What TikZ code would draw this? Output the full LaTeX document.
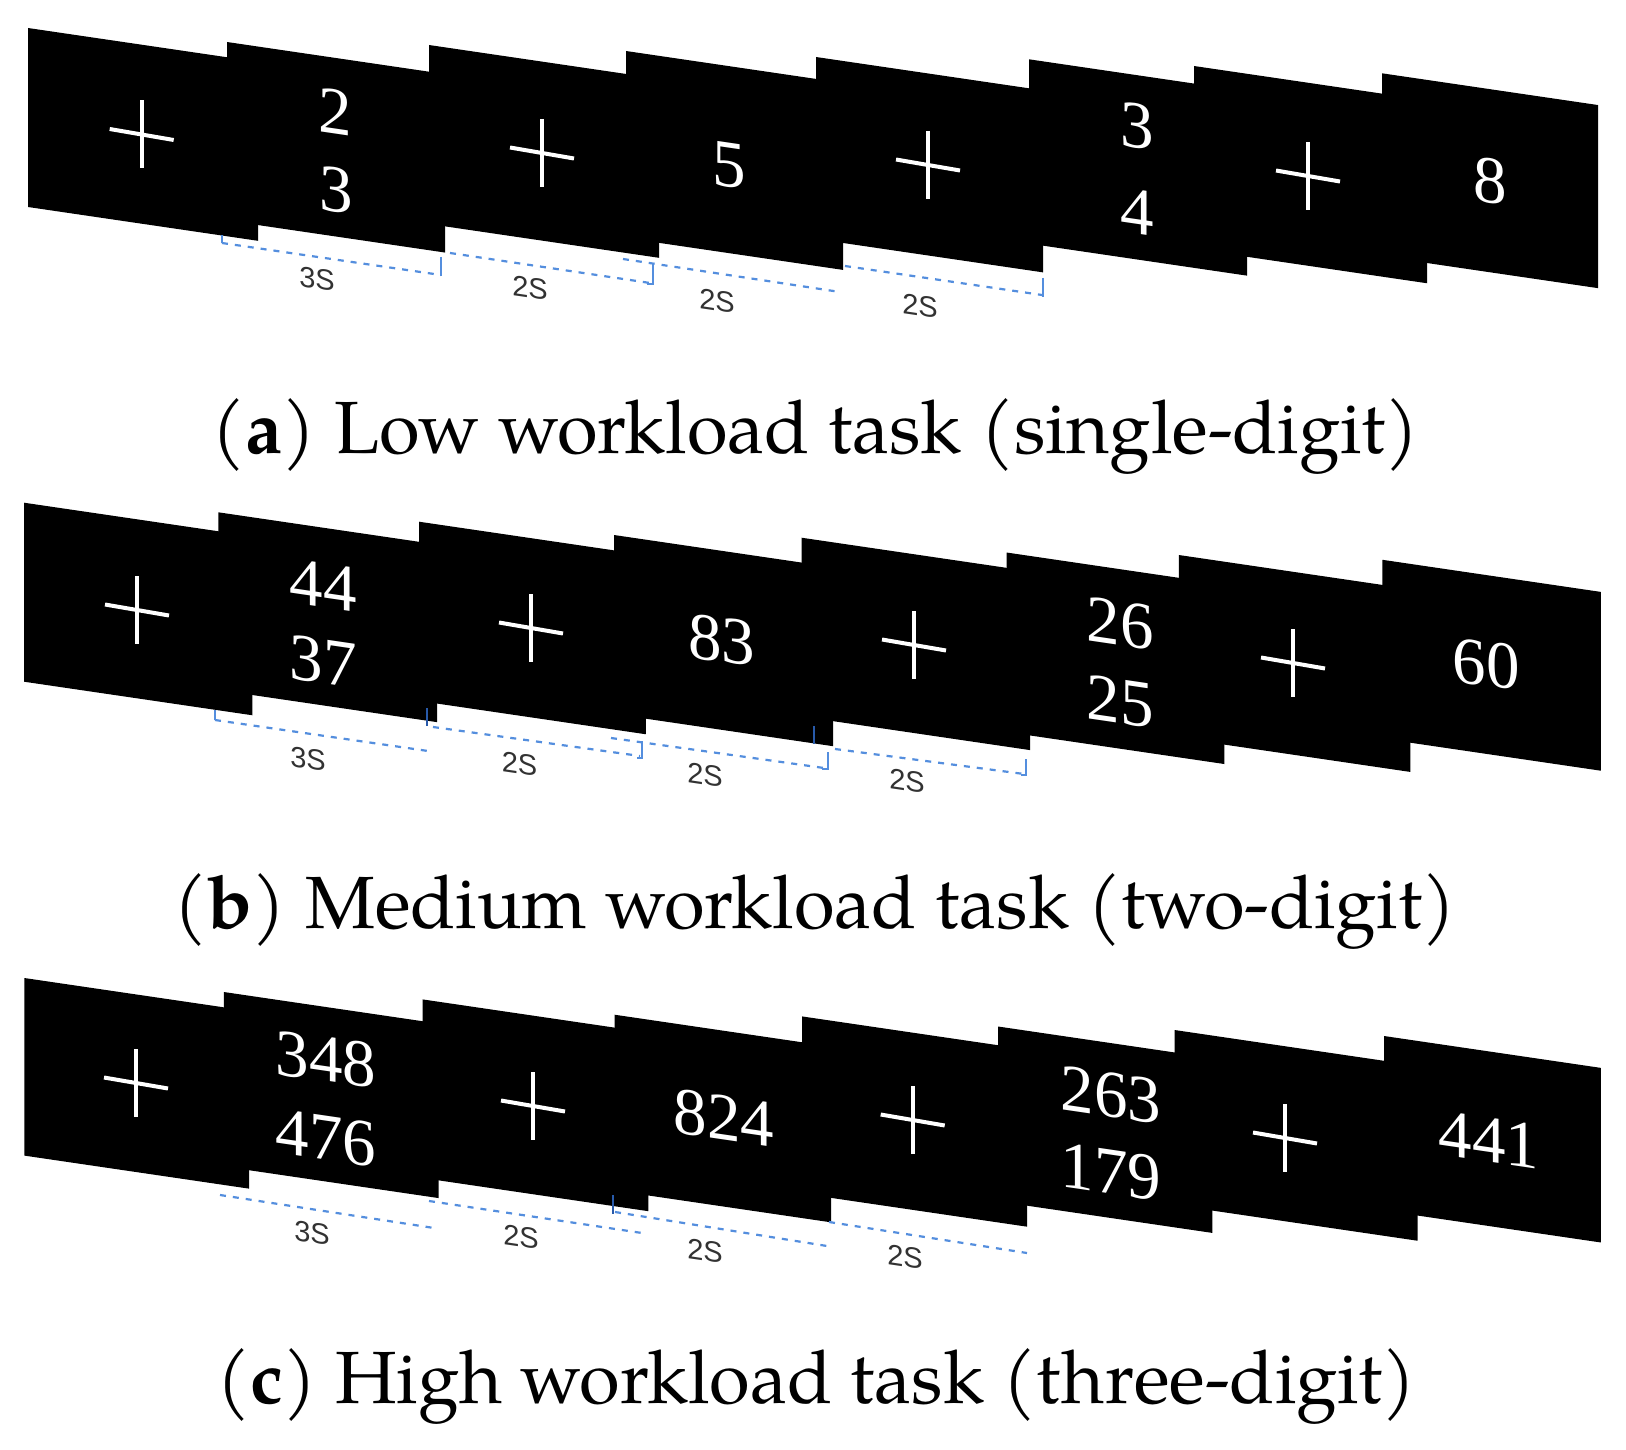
\documentclass[tikz,border=0pt]{standalone}
\usepackage{fontspec}
\setmainfont{Liberation Serif}
\newfontfamily\capfont{TeX Gyre Pagella}
\newfontfamily\labfont{Liberation Sans}
\definecolor{dashblue}{RGB}{84,142,222}
\definecolor{tickblue}{RGB}{40,90,170}
\definecolor{labgray}{RGB}{50,50,50}
\newcommand\drawcard[4]{\fill[black] (#1,#2) -- (#3,{#2+0.147*(#3-#1)}) -- (#3,{#4+0.147*(#3-#1)}) -- (#1,#4) -- cycle;}
\newcommand\fixcross[2]{\draw[crossline] (#1,{#2-34}) -- (#1,{#2+34}); \draw[crossline] ({#1-32},{#2-5.5}) -- ({#1+32},{#2+5.5});}
\tikzset{
  crossline/.style={draw=white, line width=4pt},
  digit/.style={text=white, font=\fontsize{67}{67}\selectfont, inner sep=0pt, anchor=center, yslant=-0.147},
  lab/.style={text=labgray, font=\labfont\fontsize{29}{29}\selectfont, inner sep=0pt, anchor=center, yslant=-0.147},
  dashline/.style={draw=dashblue, line width=2.2pt, dash pattern=on 6pt off 7pt},
  tickline/.style={draw=dashblue, line width=2.2pt},
  darktick/.style={draw=tickblue, line width=2.2pt},
  captext/.style={font=\capfont\fontsize{74}{74}\selectfont, inner sep=0pt, anchor=base}
}
\begin{document}
\begin{tikzpicture}[x=1pt, y=-1pt]
\useasboundingbox (0,0) rectangle (1626,1450);
\fill[white] (0,0) rectangle (1626,1450);

% ---------------- Row 1 ----------------
\drawcard{28}{28}{258}{207}
\drawcard{227}{42}{445}{220.5}
\drawcard{429}{45}{659}{224}
\drawcard{626}{51}{843}{238}
\drawcard{816}{57}{1043}{239}
\drawcard{1029}{59.3}{1247}{243.6}
\drawcard{1194}{66}{1427}{249}
\drawcard{1382}{73.3}{1598}{256.4}

\fixcross{141.7}{134.5}
\fixcross{542}{153}
\fixcross{928}{165}
\fixcross{1308}{176}
\node[digit] (a2t) at (335,112) {2};
\node[digit] (a2b) at (336,190) {3};
\node[digit] (a4) at (729,165.5) {5};
\node[digit] (a6t) at (1137,126.5) {3};
\node[digit] (a6b) at (1137,212) {4};
\node[digit] (a8) at (1490,181.5) {8};

\draw[dashline] (222,243) -- (441,275);
\draw[tickline] (222,235) -- (222,243);
\draw[tickline] (441,257) -- (441,276);
\draw[dashline] (450,253) -- (650,283);
\draw[tickline] (653,264) -- (653,284) -- (647,284);
\draw[dashline] (623,259) -- (840,292);
\draw[dashline] (845,266) -- (1042,295);
\draw[tickline] (1043,278) -- (1043,297);
\node[lab] (al1) at (317,279) {3S};
\node[lab] (al2) at (530,288) {2S};
\node[lab] (al3) at (717,301) {2S};
\node[lab] (al4) at (920,306) {2S};

\node[captext] (capa) at (815.5,453) {(\textbf{a}) Low workload task (single-digit)};

% ---------------- Row 2 ----------------
\drawcard{24}{502.7}{252.3}{681.7}
\drawcard{218.3}{512.3}{437}{690}
\drawcard{419}{521.7}{645.8}{700.9}
\drawcard{614}{535}{833}{714}
\drawcard{801.5}{537.7}{1030}{716.5}
\drawcard{1006.5}{552.5}{1224.4}{732}
\drawcard{1178.8}{555}{1410.4}{737.9}
\drawcard{1382.4}{559.8}{1600.8}{738.6}

\fixcross{137}{610}
\fixcross{531}{628}
\fixcross{914}{645}
\fixcross{1293}{663}
\node[digit] (b2t) at (323,585) {44};
\node[digit] (b2b) at (323,661.5) {37};
\node[digit] (b4) at (721.5,640) {83};
\node[digit] (b6t) at (1120,624) {26};
\node[digit] (b6b) at (1120,701.5) {25};
\node[digit] (b8) at (1486,664) {60};

\draw[tickline] (215,710) -- (215,720);
\draw[dashline] (215,720) -- (428,751);
\draw[darktick] (427,708) -- (427,726);
\draw[dashline] (433,727) -- (640,756);
\draw[tickline] (642,741) -- (642,758) -- (637,758);
\draw[dashline] (611,738) -- (824,768);
\draw[darktick] (814,726) -- (814,744);
\draw[tickline] (827.6,752) -- (827.6,769) -- (822,769);
\draw[dashline] (835,749) -- (1024,774);
\draw[tickline] (1026,759) -- (1026,775) -- (1021,775);
\node[lab] (bl1) at (308,759) {3S};
\node[lab] (bl2) at (519.5,764) {2S};
\node[lab] (bl3) at (705,775) {2S};
\node[lab] (bl4) at (907,781) {2S};

\node[captext] (capb) at (815,928) {(\textbf{b}) Medium workload task (two-digit)};

% ---------------- Row 3 ----------------
\drawcard{24.3}{978}{249}{1155.6}
\drawcard{223.8}{992}{438.5}{1166.5}
\drawcard{422.6}{999.4}{648.3}{1178}
\drawcard{614.5}{1014.7}{831}{1190.5}
\drawcard{802}{1016.4}{1027}{1193.6}
\drawcard{998}{1026.5}{1212.4}{1201.4}
\drawcard{1174.5}{1030}{1417.6}{1205}
\drawcard{1384}{1036}{1600.8}{1210.6}

\fixcross{136}{1083}
\fixcross{533}{1106}
\fixcross{912.7}{1120}
\fixcross{1285}{1138}
\node[digit] (c2t) at (326,1059.5) {348};
\node[digit] (c2b) at (326,1138.5) {476};
\node[digit] (c4) at (724,1118) {824};
\node[digit] (c6t) at (1111,1095) {263};
\node[digit] (c6b) at (1111,1172) {179};
\node[digit] (c8) at (1489,1140) {441};

\draw[dashline] (220,1195) -- (434,1228);
\draw[dashline] (429,1201) -- (642,1233);
\draw[darktick] (613,1195) -- (613,1214);
\draw[dashline] (615,1212) -- (827,1246);
\draw[dashline] (829,1222) -- (1027,1253);
\node[lab] (cl1) at (312,1233) {3S};
\node[lab] (cl2) at (521,1237) {2S};
\node[lab] (cl3) at (705,1251) {2S};
\node[lab] (cl4) at (905,1257) {2S};

\node[captext] (capc) at (816.5,1403) {(\textbf{c}) High workload task (three-digit)};
\end{tikzpicture}
\end{document}
